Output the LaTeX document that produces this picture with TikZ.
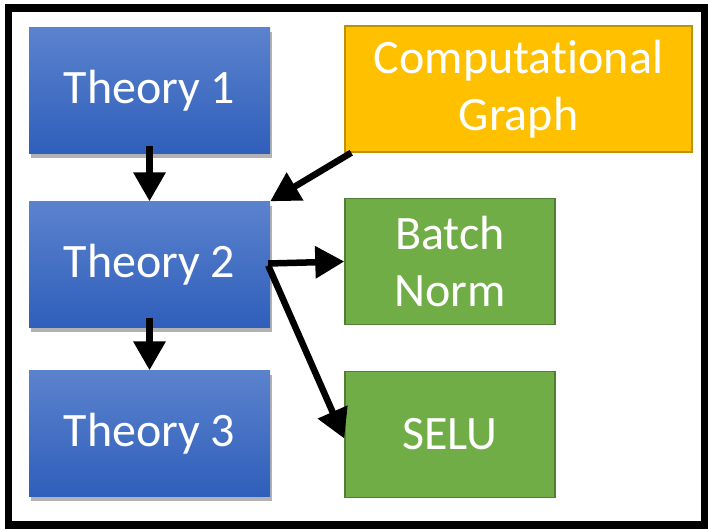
\documentclass[tikz,border=0pt]{standalone}
\usepackage{fontspec}
\setmainfont{Carlito}[Ligatures={NoCommon}]
\usetikzlibrary{arrows.meta,shadows}
\definecolor{tblue}{RGB}{91,130,205}
\definecolor{bblue}{RGB}{47,95,187}
\definecolor{cgold}{RGB}{255,192,0}
\definecolor{dgold}{RGB}{190,145,0}
\definecolor{cgreen}{RGB}{112,173,71}
\definecolor{dgreen}{RGB}{80,126,50}
\tikzset{
  txt/.style={text=white, font=\fontsize{48}{57}\selectfont, align=center, inner sep=0pt},
  theory/.style={txt, minimum width=241pt, minimum height=126pt, top color=tblue, bottom color=bblue, draw=none,
     drop shadow={shadow xshift=2pt, shadow yshift=-4pt, opacity=0.3, fill=black}},
  gold/.style={txt, minimum width=347pt, minimum height=126pt, fill=cgold, draw=dgold, line width=1.5pt},
  greenbox/.style={txt, minimum width=210pt, minimum height=126pt, fill=cgreen, draw=dgreen, line width=1.5pt},
  arr/.style={line width=6.5pt, -{Triangle[length=29pt,width=31pt]}}
}
\begin{document}
\begin{tikzpicture}[x=1pt,y=-1pt]
\useasboundingbox (0,0) rectangle (708,529);
\fill[white] (0,0) rectangle (708,529);
\draw[line width=7.5pt] (8.5,8) rectangle (704.5,525);
\node[theory] (t1) at (149.5,91) {Theory 1};
\node[theory] (t2) at (149.5,264.5) {Theory 2};
\node[theory] (t3) at (149.5,433.5) {Theory 3};
\node[gold] (cg) at (518.5,89) {Computational\\Graph};
\node[greenbox] (bn) at (450,261.5) {Batch\\Norm};
\node[greenbox] (se) at (450,434.5) {SELU};
\draw[arr] ([yshift=8pt]t1.south) -- (t2.north);
\draw[arr] ([yshift=10pt]t2.south) -- (t3.north);
\draw[arr] ([xshift=7pt]cg.south west) -- (t2.north east);
\draw[arr] ([xshift=-2pt,yshift=1pt]t2.east) -- (bn.west);
\draw[arr] ([xshift=-2pt,yshift=-1pt]t2.east) -- ([yshift=-4pt]se.west);
\end{tikzpicture}
\end{document}
